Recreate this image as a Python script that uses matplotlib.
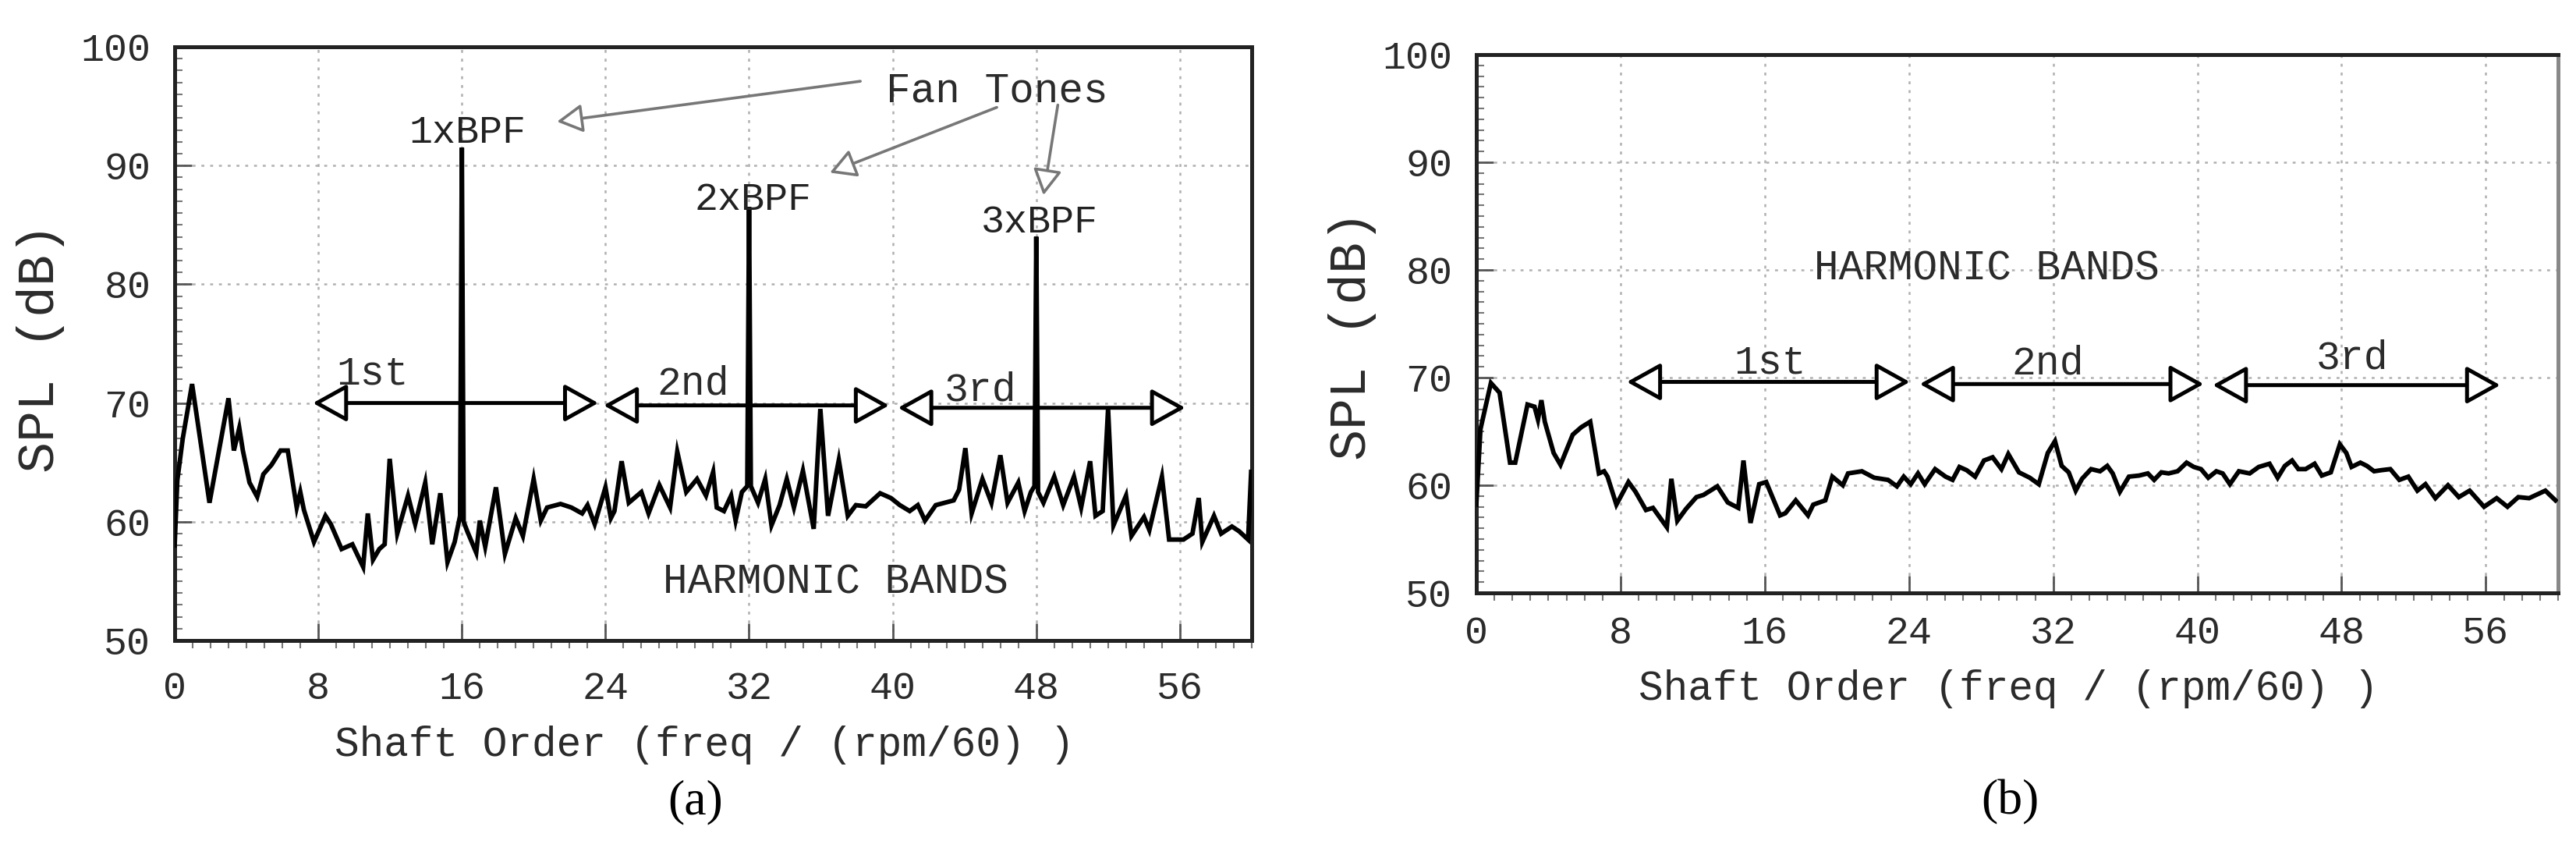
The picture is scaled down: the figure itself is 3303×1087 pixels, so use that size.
import matplotlib
matplotlib.use('Agg')
import matplotlib.pyplot as plt
from matplotlib.ticker import MultipleLocator

# panel (a): spectrum with fan tones
order_a = [0.0, 0.15, 0.45, 0.97, 1.94, 3.0, 3.3, 3.6, 3.8, 4.17, 4.6, 4.94, 5.4, 5.9, 6.3,
           6.8, 7.0, 7.2, 7.76, 8.4, 8.7, 9.3, 9.9, 10.5, 10.76, 11.05, 11.4, 11.7, 11.98,
           12.4, 13.0, 13.4, 13.96, 14.35, 14.8, 15.2, 15.6, 15.9, 16.0, 16.1, 16.3, 16.8,
           17.0, 17.3, 17.9, 18.4, 19.0, 19.4, 20.0, 20.4, 20.75, 21.5, 22.1, 22.7, 23.0,
           23.4, 24.0, 24.3, 24.5, 24.9, 25.3, 26.0, 26.4, 27.0, 27.6, 28.0, 28.5, 29.1,
           29.6, 30.0, 30.2, 30.6, 31.0, 31.25, 31.6, 31.9, 32.0, 32.1, 32.5, 32.9, 33.25,
           33.7, 34.1, 34.5, 35.0, 35.6, 35.97, 36.4, 37.0, 37.5, 37.95, 38.5, 39.3, 39.9,
           40.4, 40.95, 41.4, 41.8, 42.4, 43.4, 43.7, 44.05, 44.4, 45.0, 45.5, 46.0, 46.4,
           47.0, 47.35, 47.7, 47.9, 48.0, 48.1, 48.4, 49.0, 49.5, 50.1, 50.5, 51.0, 51.3,
           51.7, 52.0, 52.3, 53.0, 53.3, 54.0, 54.3, 55.0, 55.4, 56.2, 56.7, 57.05, 57.25,
           57.9, 58.3, 58.9, 59.3, 59.8, 59.97]
spl_a = [58.0, 63.5, 67.0, 71.6, 61.6, 70.4, 66.0, 67.9, 66.0, 63.3, 62.1, 64.0, 64.8, 66.0, 66.0,
         61.2, 62.5, 61.0, 58.3, 60.5, 59.8, 57.7, 58.1, 56.2, 60.7, 56.8, 57.7, 58.1, 65.3,
         59.0, 62.2, 59.8, 63.3, 58.1, 62.4, 56.6, 58.3, 60.5, 91.5, 60.0, 59.2, 57.4,
         60.1, 57.9, 62.9, 57.3, 60.3, 58.8, 63.6, 60.1, 61.2, 61.5, 61.2, 60.7, 61.4,
         59.8, 62.9, 60.3, 60.9, 65.1, 61.6, 62.5, 60.7, 63.1, 61.2, 65.9, 62.5, 63.6,
         62.2, 64.2, 61.2, 60.9, 62.2, 60.1, 62.5, 63.0, 86.5, 63.0, 61.6, 63.6, 59.7,
         61.4, 63.6, 61.2, 64.3, 59.4, 69.5, 60.5, 65.2, 60.5, 61.4, 61.3, 62.4, 62.0,
         61.4, 60.9, 61.4, 60.1, 61.4, 61.8, 62.7, 66.2, 60.7, 63.6, 61.6, 65.6, 61.6,
         63.3, 60.9, 62.5, 63.0, 84.0, 62.5, 61.6, 63.8, 61.4, 63.8, 61.2, 65.1, 60.5,
         60.9, 69.5, 59.7, 62.2, 58.8, 60.4, 59.3, 63.8, 58.5, 58.5, 59.0, 62.0, 58.3,
         60.5, 59.0, 59.6, 59.2, 58.5, 64.2]

# panel (b): spectrum without tones
order_b = [0.0, 0.23, 0.81, 1.29, 1.87, 2.16, 2.84, 3.23, 3.42, 3.61, 3.8, 4.29, 4.67, 5.35,
           5.83, 6.32, 6.8, 7.09, 7.28, 7.77, 8.44, 8.83, 9.41, 9.8, 10.57, 10.82, 11.15,
           11.63, 12.21, 12.6, 13.37, 13.95, 14.53, 14.82, 15.21, 15.69, 16.08, 16.85,
           17.14, 17.72, 18.4, 18.69, 19.36, 19.75, 20.33, 20.62, 21.39, 22.07, 22.84,
           23.33, 23.71, 24.1, 24.5, 24.87, 25.45, 26.03, 26.42, 26.8, 27.2, 27.67, 28.16,
           28.64, 29.13, 29.51, 30.1, 30.7, 31.2, 31.7, 32.1, 32.47, 32.86, 33.25, 33.6,
           34.1, 34.6, 35.0, 35.3, 35.7, 36.2, 36.76, 37.25, 37.6, 38.0, 38.4, 38.9, 39.4,
           39.8, 40.2, 40.6, 41.05, 41.4, 41.8, 42.3, 42.9, 43.4, 44.0, 44.45, 44.85,
           45.25, 45.6, 46.0, 46.5, 46.9, 47.4, 47.9, 48.26, 48.55, 49.04, 49.4, 49.8,
           50.2, 50.7, 51.2, 51.7, 52.2, 52.65, 53.2, 53.9, 54.5, 55.1, 55.9, 56.6, 57.2,
           57.8, 58.4, 59.3, 59.86]
spl_b = [58.2, 65.2, 69.5, 68.6, 62.1, 62.1, 67.5, 67.3, 66.1, 67.9, 65.9, 63.0, 61.9, 64.7,
         65.4, 65.9, 61.1, 61.3, 60.8, 58.2, 60.3, 59.4, 57.7, 57.9, 56.1, 60.6, 56.7,
         57.8, 58.9, 59.1, 59.9, 58.4, 57.9, 62.3, 56.5, 60.1, 60.3, 57.2,
         57.4, 58.6, 57.2, 58.2, 58.6, 60.8, 60.0, 61.1, 61.3, 60.7, 60.5,
         59.9, 60.8, 60.1, 61.1, 60.1, 61.5, 60.8, 60.5, 61.7, 61.4, 60.8, 62.3,
         62.6, 61.5, 62.9, 61.2, 60.7, 60.1, 63.0, 64.1, 61.8, 61.2, 59.5, 60.6,
         61.5, 61.3, 61.8, 61.1, 59.4, 60.8, 60.9, 61.1, 60.5, 61.2, 61.1, 61.3, 62.1,
         61.7, 61.5, 60.7, 61.3, 61.1, 60.1, 61.3, 61.1, 61.7, 62.0, 60.7, 61.8,
         62.3, 61.5, 61.5, 62.0, 60.9, 61.2, 63.8, 63.0, 61.7, 62.1, 61.8, 61.3,
         61.4, 61.5, 60.5, 60.8, 59.5, 60.1, 58.8, 60.0, 58.9, 59.5, 58.0, 58.8, 58.0,
         58.9, 58.8, 59.5, 58.6]

band_names = ['1st', '2nd', '3rd']
bands_a = [(7.7, 23.6, 70.0), (23.9, 39.8, 69.8), (40.3, 56.3, 69.6)]
band_labels_a = [(11.0, 72.5), (28.9, 71.6), (44.9, 71.1)]
bands_b = [(8.35, 24.05, 69.6), (24.6, 40.35, 69.4), (40.85, 56.8, 69.3)]
band_labels_b = [(16.3, 71.4), (31.7, 71.3), (48.6, 71.8)]

tone_names = ['1xBPF', '2xBPF', '3xBPF']
tone_labels = [(16.3, 92.8), (32.2, 87.1), (48.2, 85.2)]
tone_arrows = [((38.2, 97.1), (21.3, 93.7)), ((45.8, 94.9), (36.5, 89.4)),
               ((49.2, 95.1), (48.4, 87.5))]

MONO = 'Liberation Mono'
TXT = '#2b2b2b'


def style_axes(ax, xpad):
    ax.set_xlim(0, 60)
    ax.set_ylim(50, 100)
    ax.xaxis.set_major_locator(MultipleLocator(8))
    ax.xaxis.set_minor_locator(MultipleLocator(1))
    ax.yaxis.set_major_locator(MultipleLocator(10))
    ax.yaxis.set_minor_locator(MultipleLocator(1))
    ax.grid(True, which='major', linestyle=(0, (1.5, 3)), color='#b0b0b0', linewidth=1.8)
    ax.tick_params(axis='x', which='major', direction='in', length=16, width=2,
                   pad=xpad, labelsize=36, labelcolor=TXT, color='#555')
    ax.tick_params(axis='x', which='minor', direction='out', length=7, width=1.5, color='#777')
    ax.tick_params(axis='y', which='major', direction='in', length=16, width=2,
                   pad=22, labelsize=36, labelcolor=TXT, color='#555')
    ax.tick_params(axis='y', which='minor', direction='in', length=7, width=1.5, color='#777')
    for lab in ax.get_xticklabels() + ax.get_yticklabels():
        lab.set_fontfamily(MONO)
    for sp in ax.spines.values():
        sp.set_linewidth(3.6)
        sp.set_color('#222')


def draw_bands(ax, bands, labels):
    for (x0, x1, y), (lx, ly), name in zip(bands, labels, band_names):
        ax.annotate('', xy=(x1, y), xytext=(x0, y),
                    arrowprops=dict(arrowstyle='<|-|>,head_length=0.45,head_width=0.25',
                                    mutation_scale=60, fc='white', ec='black', lw=3.6,
                                    shrinkA=0, shrinkB=0))
        ax.text(lx, ly, name, fontsize=37, family=MONO, color=TXT, ha='center', va='center')


fig = plt.figure(figsize=(33.03, 10.87), dpi=100)
ax_a = fig.add_axes([0.0678, 0.2447, 0.4181, 0.7001])
ax_b = fig.add_axes([0.5731, 0.3008, 0.4199, 0.6348])

# (a)
ax_a.plot(order_a, spl_a, color='black', linewidth=4.2, solid_joinstyle='miter', zorder=3)
style_axes(ax_a, xpad=28)
draw_bands(ax_a, bands_a, band_labels_a)
for name, (lx, ly) in zip(tone_names, tone_labels):
    ax_a.text(lx, ly, name, fontsize=36, family=MONO, color='#222', ha='center', va='center',
              zorder=4)
ax_a.text(45.8, 96.3, 'Fan Tones', fontsize=38, family=MONO, color=TXT, ha='center', va='center')
for start, tip in tone_arrows:
    ax_a.annotate('', xy=tip, xytext=start,
                  arrowprops=dict(arrowstyle='-|>,head_length=0.45,head_width=0.25',
                                  mutation_scale=45, fc='white', ec='#777777', lw=2.6,
                                  shrinkA=0, shrinkB=0))
ax_a.text(36.8, 54.9, 'HARMONIC BANDS', fontsize=38, family=MONO, color=TXT,
          ha='center', va='center')
ax_a.set_xlabel('Shaft Order (freq / (rpm/60) )', fontsize=38, family=MONO, color=TXT)
ax_a.xaxis.label.set_va('center')
ax_a.xaxis.set_label_coords(0.4917, -0.176)
ax_a.set_ylabel('SPL (dB)', fontsize=48, family=MONO, color=TXT)
ax_a.yaxis.label.set_va('center')
ax_a.yaxis.set_label_coords(-0.1245, 0.4928)

# (b)
ax_b.plot(order_b, spl_b, color='black', linewidth=4.2, solid_joinstyle='miter', zorder=3)
style_axes(ax_b, xpad=21)
ax_b.spines['right'].set_color('#888')
draw_bands(ax_b, bands_b, band_labels_b)
ax_b.text(28.3, 80.1, 'HARMONIC BANDS', fontsize=38, family=MONO, color=TXT,
          ha='center', va='center')
ax_b.set_xlabel('Shaft Order (freq / (rpm/60) )', fontsize=38, family=MONO, color=TXT)
ax_b.xaxis.label.set_va('center')
ax_b.xaxis.set_label_coords(0.4917, -0.178)
ax_b.set_ylabel('SPL (dB)', fontsize=48, family=MONO, color=TXT)
ax_b.yaxis.label.set_va('center')
ax_b.yaxis.set_label_coords(-0.1146, 0.478)

fig.text(0.2698, 0.0543, '(a)', fontsize=46, family='Liberation Serif', ha='center', va='center')
fig.text(0.7802, 0.0543, '(b)', fontsize=46, family='Liberation Serif', ha='center', va='center')

fig.savefig('out.png', dpi=100)
